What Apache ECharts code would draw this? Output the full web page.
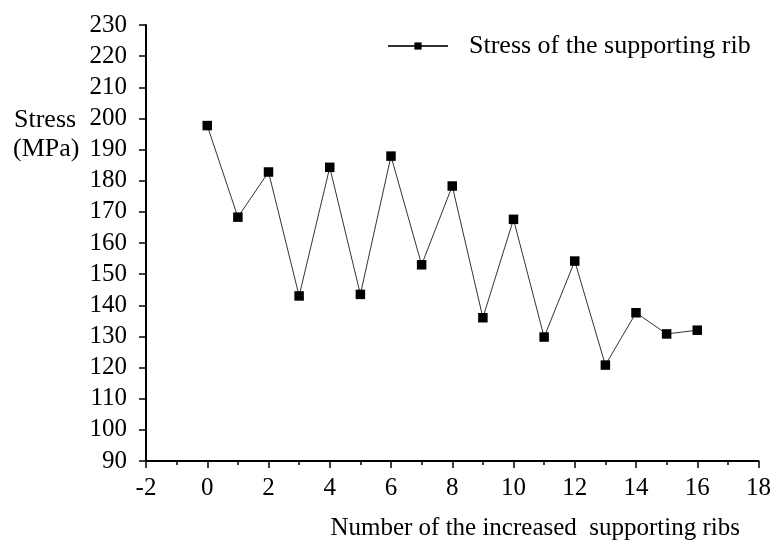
<!DOCTYPE html>
<html>
<head>
<meta charset="utf-8">
<script src="https://cdn.jsdelivr.net/npm/echarts@6/dist/echarts.min.js"></script>
<style>html,body{margin:0;padding:0;background:#fff;}#c{width:774px;height:547px;}</style>
</head>
<body>
<div id="c"></div>
<script>
const xValues = [0, 1, 2, 3, 4, 5, 6, 7, 8, 9, 10, 11, 12, 13, 14, 15, 16];
const stressValues = [197.7, 168.3, 182.8, 143.0, 184.3, 143.5, 187.9, 153.0, 178.3, 136.0, 167.6, 129.8, 154.2, 120.8, 137.6, 130.8, 132.0];
const seriesName = 'Stress of the supporting rib';
const xTitle = 'Number of the increased  supporting ribs';
const yTitle = ['Stress', '(MPa)'];

const font = 'Liberation Serif, Times New Roman, serif';
const chart = echarts.init(document.getElementById('c'));
chart.setOption({
  backgroundColor: '#fff',
  animation: false,
  grid: { left: 146, right: 15, top: 25, bottom: 86, containLabel: false },
  legend: {
    data: [seriesName],
    left: 387, top: 33, padding: 0,
    itemWidth: 60, itemHeight: 9, itemGap: 10,
    textStyle: { fontFamily: font, fontSize: 26, color: '#000', padding: [0, 0, 0, 16] }
  },
  xAxis: {
    type: 'value', min: -2, max: 18, interval: 2,
    axisLine: { show: true, onZero: false, lineStyle: { color: '#000', width: 2 } },
    axisTick: { show: true, inside: false, length: 7, lineStyle: { color: '#000', width: 1.5 } },
    minorTick: { show: true, splitNumber: 2, length: 4, lineStyle: { color: '#000', width: 1.5 } },
    axisLabel: { fontFamily: font, fontSize: 25, color: '#000', margin: 15 },
    splitLine: { show: false }
  },
  yAxis: {
    type: 'value', min: 90, max: 230, interval: 10,
    axisLine: { show: true, onZero: false, lineStyle: { color: '#000', width: 2 } },
    axisTick: { show: true, inside: false, length: 7, lineStyle: { color: '#000', width: 1.5 } },
    axisLabel: { fontFamily: font, fontSize: 25, color: '#000', margin: 19 },
    splitLine: { show: false }
  },
  graphic: [
    { type: 'text', left: 14, top: 107, style: { text: yTitle[0], font: '26px ' + font, fill: '#000' } },
    { type: 'text', left: 13, top: 136, style: { text: yTitle[1], font: '26px ' + font, fill: '#000' } },
    { type: 'text', right: 34, top: 516, style: { text: xTitle, font: '25px ' + font, fill: '#000' } }
  ],
  series: [{
    name: seriesName,
    type: 'line',
    data: xValues.map((x, i) => [x, stressValues[i]]),
    symbol: 'rect', symbolSize: 9.5,
    itemStyle: { color: '#000' },
    lineStyle: { color: '#333', width: 1 }
  }]
});
</script>
</body>
</html>
